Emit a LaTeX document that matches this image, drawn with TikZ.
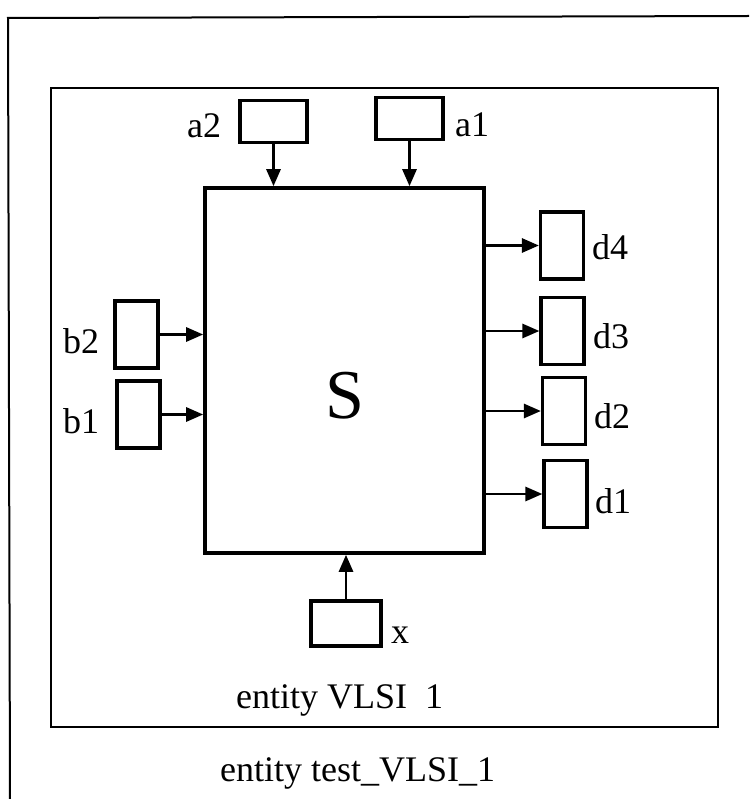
\documentclass[tikz,border=0pt]{standalone}
\usepackage{fontspec}
\setmainfont{Liberation Serif}
\usetikzlibrary{arrows.meta}
\begin{document}
\begin{tikzpicture}[x=1pt,y=-1pt,
  frame/.style={line width=2pt},
  port/.style={draw,line width=3.2pt,inner sep=0pt,minimum width=#1},
  hport/.style={port=67pt,minimum height=42pt},
  vport/.style={port=43pt,minimum height=67pt},
  lbl/.style={inner sep=0pt,anchor=base west,font=\fontsize{36}{36}\selectfont},
  title/.style={inner sep=0pt,anchor=base west,font=\fontsize{36}{36}\selectfont},
  sig/.style={line width=2.8pt,-{Triangle[length=17pt,width=14pt]}}]
\useasboundingbox (0,0) rectangle (749,799);
% outer frame (open at right and bottom)
\draw[frame] (10,799) -- (8,18) -- (749,16);
% inner frame
\draw[frame] (51,88) rectangle (718,727);
% main block
\node[draw,line width=3.6pt,inner sep=0pt,minimum width=279pt,minimum height=365pt] (S) at (344.5,370.5) {};
\node[inner sep=0pt,font=\fontsize{70}{70}\selectfont] (Slbl) at (344.5,396) {S};
% ports
\node[hport] (a2) at (273.5,121.5) {};
\node[hport] (a1) at (409.5,118.5) {};
\node[vport] (b2) at (136.5,334.5) {};
\node[vport] (b1) at (138.5,414.5) {};
\node[vport] (d4) at (562,245.5) {};
\node[vport] (d3) at (562.5,331) {};
\node[vport] (d2) at (564,411) {};
\node[vport] (d1) at (565.5,494) {};
\node[port=70pt,minimum height=45pt] (x) at (346,623.5) {};
% labels
\node[lbl] (a2l) at (187,138) {a2};
\node[lbl] (a1l) at (455,137) {a1};
\node[lbl] (b2l) at (63,353) {b2};
\node[lbl] (b1l) at (63,433) {b1};
\node[lbl] (d4l) at (592,259) {d4};
\node[lbl] (d3l) at (593,348) {d3};
\node[lbl] (d2l) at (594,428) {d2};
\node[lbl] (d1l) at (595,513) {d1};
\node[lbl] (xl) at (391,643) {x};
\node[title] (t1) at (236,708) {entity VLSI\hspace{0.5em}1};
\node[title] (t2) at (220,781) {entity test\_VLSI\_1};
% connectors
\draw[sig] (a2.south) -- (a2.south |- S.north);
\draw[sig] (a1.south) -- (a1.south |- S.north);
\draw[sig] (b2.east) -- (b2.east -| S.west);
\draw[sig] (b1.east) -- (b1.east -| S.west);
\draw[sig] (d4.west -| S.east) -- (d4.west);
\draw[sig] (d3.west -| S.east) -- (d3.west);
\draw[sig] (d2.west -| S.east) -- (d2.west);
\draw[sig] (d1.west -| S.east) -- (d1.west);
\draw[sig] (x.north) -- (x.north |- S.south);
\end{tikzpicture}
\end{document}
